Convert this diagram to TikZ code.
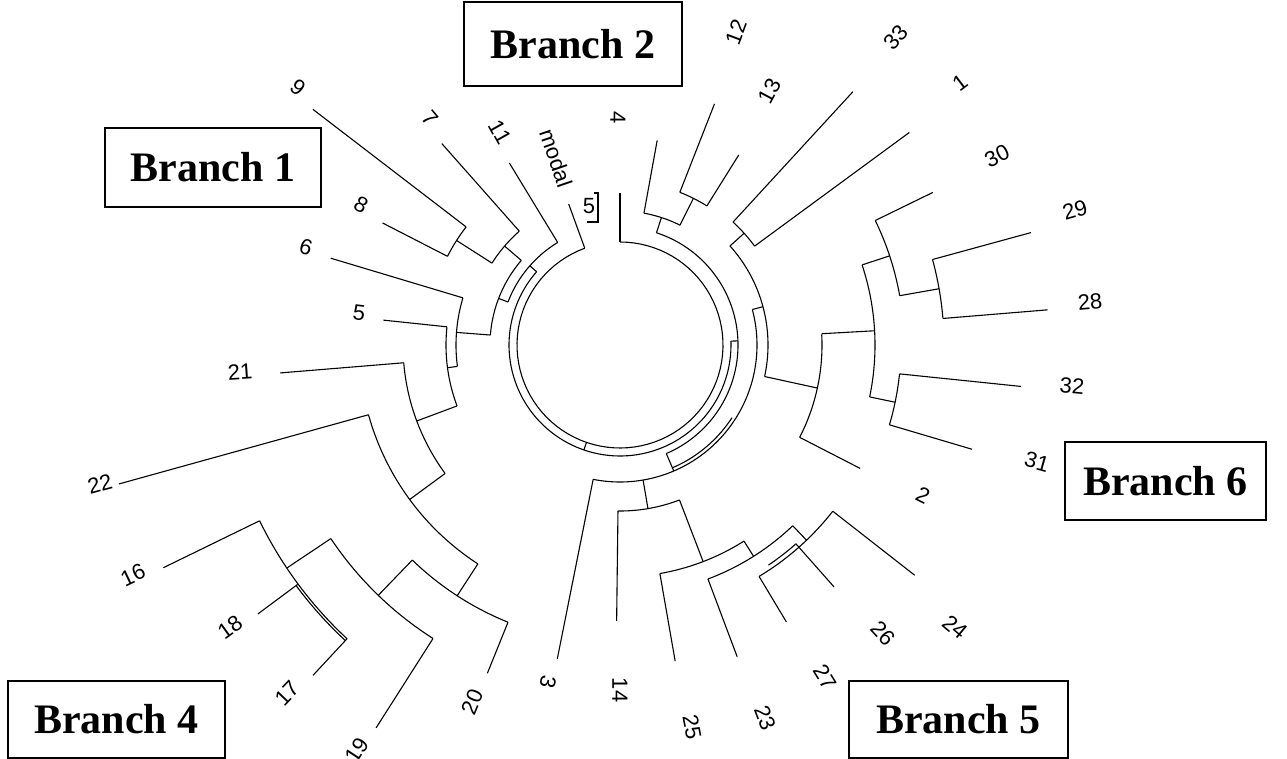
\documentclass[tikz,border=0pt]{standalone}
\usepackage{fontspec}
\newfontfamily\lblfont{Liberation Sans}
\newfontfamily\brfont{Liberation Serif}
\newcommand\dRad[3]{\draw (#1:#2) -- (#1:#3);}
\newcommand\dArc[3]{\draw plot[domain=#1:#2,samples=90,variable=\t] (\t:#3);}
\begin{document}
\begin{tikzpicture}[x=1pt,y=-1pt,line width=1.1pt,
  lbl/.style={font=\lblfont\fontsize{22}{22}\selectfont,inner sep=0pt},
  brbox/.style={draw,line width=1.6pt,inner sep=0pt,minimum width=217pt,minimum height=78pt,
     font=\brfont\bfseries\fontsize{42}{42}\selectfont}]
\useasboundingbox (0,0) rectangle (1287,759);
\begin{scope}[shift={(620,345)}]
% core rings
\dArc{270}{610}{103}
\dRad{270}{103}{152}
\dRad{250}{103}{150}
\dRad{109}{103}{111}
\dArc{-2}{221.3}{111}
\dRad{-2}{111}{118}
\dRad{221.3}{111}{120}
\dArc{288}{426.9}{118}
% 4/12/13 group
\dRad{288}{118}{134}
\dArc{280.3}{296.6}{134}
\dRad{280.3}{134}{208}
\dRad{296.6}{134}{164}
\dArc{291.4}{302}{164}
\dRad{291.4}{164}{259}
\dRad{302}{164}{224}
% ring 137
\dRad{66.9}{118}{137}
\dArc{345}{461.3}{137}
\dArc{33}{67}{133.5}
\dRad{345}{137}{148}
\dArc{318}{372.3}{148}
% 33 / 1
\dRad{318}{148}{167}
\dArc{312.6}{323.7}{167}
\dRad{312.6}{167}{344}
\dRad{323.7}{167}{359}
% branch 6
\dRad{12.3}{148}{202}
\dArc{357}{387.2}{202}
\dRad{27.2}{202}{270}
\dRad{356.8}{202}{255}
\dArc{341.7}{371.75}{255}
\dRad{11.75}{255}{281}
\dArc{5.9}{16.5}{281}
\dRad{5.9}{281}{403}
\dRad{16.5}{281}{367}
\dRad{341.7}{255}{284}
\dArc{334}{350}{284}
\dRad{334}{284}{348}
\dRad{350}{284}{324}
\dArc{344.7}{355.3}{324}
\dRad{344.7}{324}{426}
\dRad{355.3}{324}{429}
% bottom / branch 5
\dRad{101.3}{137}{320}
\dRad{80.3}{137}{166}
\dArc{69}{90.7}{166}
\dRad{90.7}{166}{276}
\dRad{69}{166}{232}
\dArc{57.7}{80.1}{232}
\dRad{80.1}{232}{321}
\dRad{57.7}{232}{250}
\dArc{46.3}{69.4}{250}
\dRad{69.4}{250}{333}
\dRad{46.3}{250}{270}
\dArc{38}{59}{270}
\dArc{48.5}{56}{265.5}
\dRad{48.5}{265.5}{323}
\dRad{38}{270}{374}
\dRad{59}{270}{323}
% left: 11, 7, 9, 8
\dArc{201}{238.7}{120}
\dRad{238.7}{120}{213}
\dRad{201}{120}{130}
\dArc{184.4}{220.6}{130}
\dRad{220.6}{130}{152}
\dArc{212.6}{228.5}{152}
\dRad{228.5}{152}{269}
\dRad{212.6}{152}{194}
\dArc{207.2}{217.5}{194}
\dRad{207.2}{194}{267}
\dRad{217.5}{194}{387}
% 6, 5, 21, 22
\dRad{184.4}{130}{164}
\dArc{172.5}{196.7}{164}
\dRad{196.7}{164}{302}
\dRad{172.5}{164}{174}
\dArc{159.5}{186}{174}
\dRad{186}{174}{238}
\dRad{159.5}{174}{217}
\dArc{143.7}{175.3}{217}
\dRad{175.3}{217}{341}
\dRad{143.7}{217}{261}
\dArc{123}{164.5}{261}
\dRad{164.5}{261}{520}
% branch 4
\dRad{123}{261}{299}
\dArc{112}{134}{299}
\dRad{112}{299}{354}
\dRad{134}{299}{348}
\dArc{122.5}{146.2}{348}
\dRad{122.5}{348}{454}
\dRad{146.2}{348}{401}
\dArc{132.9}{154}{401}
\dArc{132.9}{143.4}{403.5}
\dRad{154}{401}{508}
\dRad{143.4}{401}{451}
\dRad{132.9}{401}{451}
\end{scope}
% boxed 5
\node[lbl] (l5b) at (589,206) {5};
\draw (594,193) -- (598,193) -- (598,222) -- (587,222);
% leaf labels
\node[lbl,rotate=-38.7] (l9) at (298,87) {9};
\node[lbl,rotate=-50] (l7) at (430,118) {7};
\node[lbl,rotate=-60.6] (l11) at (500,132) {11};
\node[lbl,rotate=-71] (lmodal) at (556,158) {modal};
\node[lbl,rotate=-90] (l4) at (618,118) {4};
\node[lbl,rotate=69.6] (l12) at (736,32) {12};
\node[lbl,rotate=62] (l13) at (770,91) {13};
\node[lbl,rotate=48.2] (l33) at (896,37) {33};
\node[lbl,rotate=37.2] (l1) at (960,83) {1};
\node[lbl,rotate=26.4] (l30) at (997,156) {30};
\node[lbl,rotate=16.5] (l29) at (1075,210) {29};
\node[lbl,rotate=5.2] (l28) at (1090,302) {28};
\node[lbl,rotate=-5.2] (l32) at (1072,386) {32};
\node[lbl,rotate=-15.7] (l31) at (1037,462) {31};
\node[lbl,rotate=-26.3] (l2) at (923,495) {2};
\node[lbl,rotate=-40] (l24) at (955,627) {24};
\node[lbl,rotate=-47.6] (l26) at (883,633) {26};
\node[lbl,rotate=-58.3] (l27) at (825,677) {27};
\node[lbl,rotate=-68.8] (l23) at (765,718) {23};
\node[lbl,rotate=-79.3] (l25) at (692,727) {25};
\node[lbl,rotate=-90] (l14) at (620,690) {14};
\node[lbl,rotate=-102] (l3) at (548,682) {3};
\node[lbl,rotate=67.5] (l20) at (472,702) {20};
\node[lbl,rotate=56.9] (l19) at (357,750) {19};
\node[lbl,rotate=46.3] (l17) at (287,693) {17};
\node[lbl,rotate=35.9] (l18) at (230,627) {18};
\node[lbl,rotate=25.3] (l16) at (133,575) {16};
\node[lbl,rotate=15] (l22) at (100,484) {22};
\node[lbl,rotate=4.1] (l21) at (240,372) {21};
\node[lbl,rotate=-7] (l5) at (359,313) {5};
\node[lbl,rotate=-17.3] (l6) at (306,247) {6};
\node[lbl,rotate=-28.4] (l8) at (361,205) {8};
% branch boxes
\node[brbox,minimum width=218pt,minimum height=84pt] (br2) at (573,44) {Branch 2};
\node[brbox,minimum width=216pt,minimum height=79pt] (br1) at (213,167.5) {Branch 1};
\node[brbox,minimum width=201pt,minimum height=78pt] (br6) at (1165.5,481) {Branch 6};
\node[brbox,minimum width=217pt,minimum height=77pt] (br4) at (116.5,719.5) {Branch 4};
\node[brbox,minimum width=219pt,minimum height=77pt] (br5) at (958.5,719.5) {Branch 5};
\end{tikzpicture}
\end{document}
